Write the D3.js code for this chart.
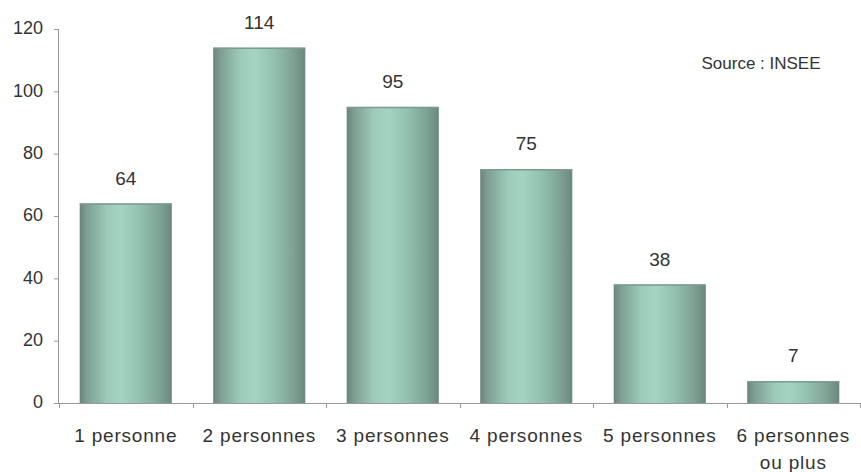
<!DOCTYPE html>
<html><head><meta charset="utf-8">
<script src="https://cdn.jsdelivr.net/npm/d3@7"></script>
<style>body{margin:0;background:#fff}svg{display:block}text{font-family:"Liberation Sans",Arial,sans-serif;fill:#333}</style>
</head><body>
<svg id="c" width="861" height="472"></svg>
<script>
const categories = ["1 personne","2 personnes","3 personnes","4 personnes","5 personnes","6 personnes\nou plus"];
const values = [64,114,95,75,38,7];
const yTicks = [0,20,40,60,80,100,120];

const svg = d3.select("#c");
const m = {l:59, r:860, t:29, b:403};
const x = d3.scaleBand().domain(categories).range([m.l, m.r]).paddingInner(0.31).paddingOuter(0.155);
const y = d3.scaleLinear().domain([0,120]).range([m.b, m.t]);

const defs = svg.append("defs");
const g = defs.append("linearGradient").attr("id","cyl").attr("x1","0").attr("x2","1").attr("y1","0").attr("y2","0");
[[0,"#6a857b"],[0.08,"#7e9f93"],[0.3,"#9dcbba"],[0.45,"#a4d4c2"],[0.65,"#93c2b0"],[0.85,"#80a597"],[1,"#6c877d"]]
  .forEach(([o,c])=>g.append("stop").attr("offset",o).attr("stop-color",c));

// y axis
const ya = svg.append("g").attr("transform",`translate(${m.l},0)`)
  .call(d3.axisLeft(y).tickValues(yTicks).tickSize(5).tickPadding(11));
ya.select(".domain").attr("stroke","#999").attr("d",`M-0.5,${m.t}V${m.b}`);
ya.selectAll(".tick line").attr("stroke","#999");
ya.selectAll(".tick text").attr("font-size",18).attr("dy","0.27em").style("fill","#333").style("font-family",'"Liberation Sans",Arial,sans-serif');

// bars
svg.append("g").selectAll("rect").data(values).join("rect")
  .attr("x",(d,i)=>x(categories[i]))
  .attr("width",x.bandwidth())
  .attr("y",d=>y(d))
  .attr("height",d=>y(0)-y(d))
  .attr("fill","url(#cyl)");
svg.append("g").selectAll("line").data(values).join("line")
  .attr("x1",(d,i)=>x(categories[i])).attr("x2",(d,i)=>x(categories[i])+x.bandwidth())
  .attr("y1",d=>y(d)+0.5).attr("y2",d=>y(d)+0.5).attr("stroke","#7d9990").attr("stroke-width",1.5);

// x axis
const xa = svg.append("g").attr("transform",`translate(0,${m.b})`);
xa.append("line").attr("x1",m.l).attr("x2",m.r).attr("y1",0.5).attr("y2",0.5).attr("stroke","#999");
const step = x.step();
const bounds = d3.range(categories.length+1).map(i=>x(categories[0]) - x.paddingInner()*step/2 + i*step);
xa.selectAll(".tk").data(bounds).join("line").attr("class","tk")
  .attr("x1",d=>Math.round(d)+0.5).attr("x2",d=>Math.round(d)+0.5).attr("y1",0).attr("y2",5).attr("stroke","#999");

svg.append("g").selectAll("text").data(categories).join("text")
  .attr("text-anchor","middle").attr("font-size",19).attr("letter-spacing","0.8px")
  .each(function(d){
    const cx = x(d)+x.bandwidth()/2;
    d.split("\n").forEach((s,k)=>d3.select(this).append("tspan").attr("x",cx).attr("y",442+k*27).text(s));
  });

// value labels
svg.append("g").selectAll("text").data(values).join("text")
  .attr("text-anchor","middle").attr("font-size",19)
  .attr("x",(d,i)=>x(categories[i])+x.bandwidth()/2)
  .attr("y",d=>y(d)-19)
  .text(d=>d);

svg.append("text").attr("x",761).attr("y",69).attr("text-anchor","middle").attr("font-size",17).text("Source : INSEE");
</script>
</body></html>
